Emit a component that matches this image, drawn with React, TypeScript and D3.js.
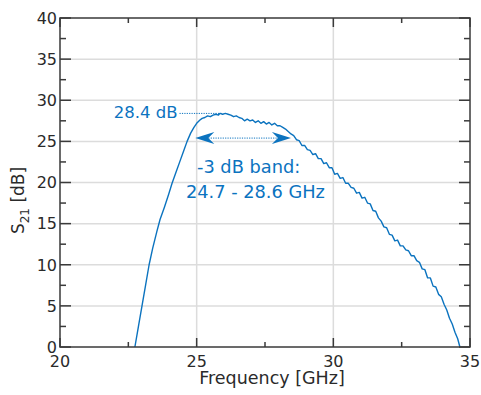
import React from 'react';
import * as d3 from 'd3';

// measured S21 trace (frequency in GHz, gain in dB)
const freqs = [
  22.74, 22.87, 23.0, 23.13, 23.26, 23.39, 23.54, 23.66, 23.82, 23.97, 24.1, 24.25, 24.39, 24.52,
  24.65, 24.78, 24.9, 25.0, 25.12, 25.2, 25.3, 25.4, 25.5, 25.6, 25.7, 25.8, 25.85, 25.95, 26.05,
  26.15, 26.25, 26.35, 26.45, 26.55, 26.65, 26.75, 26.85, 26.95, 27.05, 27.15, 27.25, 27.35, 27.45,
  27.55, 27.65, 27.75, 27.85, 27.95, 28.05, 28.15, 28.25, 28.35, 28.45, 28.55, 28.65, 28.75, 28.85,
  28.95, 29.05, 29.15, 29.25, 29.35, 29.45, 29.55, 29.65, 29.75, 29.85, 29.95, 30.05, 30.15, 30.25,
  30.35, 30.45, 30.55, 30.65, 30.75, 30.85, 30.95, 31.05, 31.15, 31.25, 31.35, 31.45, 31.55, 31.65,
  31.75, 31.85, 31.95, 32.05, 32.15, 32.25, 32.35, 32.45, 32.55, 32.65, 32.75, 32.85, 32.95, 33.05,
  33.15, 33.25, 33.35, 33.45, 33.55, 33.65, 33.75, 33.85, 33.95, 34.05, 34.15, 34.25, 34.35, 34.45,
  34.55, 34.63,
];
const s21 = [
  0, 2.5, 5.0, 7.5, 10.0, 12.0, 14.0, 15.5, 17.0, 18.5, 19.9, 21.3, 22.6, 23.8,
  25.0, 26.0, 26.7, 27.2, 27.6, 27.8, 27.9, 28.1, 28.0, 28.2, 28.3, 28.2, 28.4, 28.3, 28.4,
  28.3, 28.2, 28.0, 28.1, 27.9, 27.8, 27.5, 27.7, 27.5, 27.6, 27.3, 27.5, 27.2, 27.4,
  27.1, 27.3, 27.0, 27.2, 26.9, 26.9, 26.7, 26.5, 26.2, 25.9, 25.7, 25.2, 25.1, 24.5,
  24.5, 24.0, 23.9, 23.4, 23.5, 22.9, 22.9, 22.3, 22.4, 21.8, 21.8, 21.0, 21.1, 20.5,
  20.6, 19.9, 19.9, 19.4, 19.3, 18.7, 18.8, 18.1, 18.2, 17.5, 17.4, 16.6, 16.5, 15.7,
  15.3, 14.6, 14.5, 13.7, 13.6, 12.9, 13.0, 12.3, 12.3, 11.8, 11.7, 11.1, 11.1, 10.5,
  10.3, 9.5, 9.4, 8.4, 8.4, 7.4, 7.3, 6.4, 6.1, 5.2, 4.5, 3.5, 2.8, 1.8,
  1.0, 0,
];

const xTicks = [20, 25, 30, 35];
const xMinor = [22.5, 27.5, 32.5];
const yTicks = [0, 5, 10, 15, 20, 25, 30, 35, 40];
const yMinor = [2.5, 7.5, 12.5, 17.5, 22.5, 27.5, 32.5, 37.5];

const peakGain = 28.4;
const peakFreq = 25.95;
const peakLabelFreq = 24.3;
const bandLevel = 25.4;
const bandArrow = [24.95, 28.45];
const bandLabel = ['-3 dB band:', '24.7 - 28.6 GHz'];
const bandLabelFreq = [26.9, 27.15];
const bandLabelGain = [21.15, 18.1];

const W = 481;
const H = 395;
const margin = { left: 60, right: 11, top: 18, bottom: 48 };
const blue = '#0b73bf';
const axisColor = '#3a3a3a';
const font = '"DejaVu Sans", sans-serif';

export default function App() {
  const x = d3.scaleLinear().domain([20, 35]).range([margin.left, W - margin.right]);
  const y = d3.scaleLinear().domain([0, 40]).range([H - margin.bottom, margin.top]);
  const x0 = x(20), x1 = x(35), y0 = y(0), y1 = y(40);

  const line = d3.line<number>()
    .x((_, i) => x(freqs[i]))
    .y(d => y(d));

  // concave arrowhead pointing in direction dir (+1 right, -1 left)
  const head = (tipX: number, tipY: number, dir: number) => {
    const L = 19, w = 6, back = 13;
    return `M${tipX},${tipY} L${tipX - dir * L},${tipY - w} L${tipX - dir * back},${tipY} L${tipX - dir * L},${tipY + w} Z`;
  };
  const ay = y(bandLevel);
  const ax0 = x(bandArrow[0]);
  const ax1 = x(bandArrow[1]);

  return (
    <svg width={W} height={H} style={{ position: 'absolute', left: 0, top: 0, background: '#fff' }}>
      {/* grid */}
      {xTicks.slice(1, -1).map(t => (
        <line key={'gx' + t} x1={x(t)} x2={x(t)} y1={y0} y2={y1} stroke="#dcdcdc" strokeWidth={1.5} />
      ))}
      {yTicks.slice(1, -1).map(t => (
        <line key={'gy' + t} x1={x0} x2={x1} y1={y(t)} y2={y(t)} stroke="#dcdcdc" strokeWidth={1.5} />
      ))}

      {/* curve */}
      <path d={line(s21) || ''} fill="none" stroke={blue} strokeWidth={1.4} strokeLinejoin="round" />

      {/* peak annotation */}
      <text x={x(peakLabelFreq)} y={y(peakGain)} dy="0.3em" textAnchor="end" fontFamily={font} fontSize={16.5} fill={blue}>28.4 dB</text>
      <line x1={x(peakLabelFreq) + 2} x2={x(peakFreq)} y1={y(peakGain)} y2={y(peakGain)} stroke={blue} strokeWidth={1} strokeDasharray="1.2,1.2" />

      {/* -3 dB band arrow */}
      <line x1={ax0 + 13} x2={ax1 - 13} y1={ay} y2={ay} stroke={blue} strokeWidth={1} strokeDasharray="1.2,1.2" />
      <path d={head(ax0, ay, -1)} fill={blue} />
      <path d={head(ax1, ay, 1)} fill={blue} />
      {bandLabel.map((s, i) => (
        <text key={s} x={x(bandLabelFreq[i])} y={y(bandLabelGain[i])} textAnchor="middle" fontFamily={font} fontSize={17.8} fill={blue}>{s}</text>
      ))}

      {/* axes box */}
      <rect x={x0} y={y1} width={x1 - x0} height={y0 - y1} fill="none" stroke={axisColor} strokeWidth={1.5} />

      {/* ticks */}
      {xTicks.map(t => (
        <g key={'xt' + t}>
          <line x1={x(t)} x2={x(t)} y1={y0} y2={y0 - 9} stroke={axisColor} strokeWidth={1.5} />
          <line x1={x(t)} x2={x(t)} y1={y1} y2={y1 + 9} stroke={axisColor} strokeWidth={1.5} />
          <text x={x(t)} y={y0 + 20} textAnchor="middle" fontFamily={font} fontSize={16} fill="#2a2a2a">{t}</text>
        </g>
      ))}
      {xMinor.map(t => (
        <g key={'xm' + t}>
          <line x1={x(t)} x2={x(t)} y1={y0} y2={y0 - 5} stroke={axisColor} strokeWidth={1.5} />
          <line x1={x(t)} x2={x(t)} y1={y1} y2={y1 + 5} stroke={axisColor} strokeWidth={1.5} />
        </g>
      ))}
      {yTicks.map(t => (
        <g key={'yt' + t}>
          <line x1={x0} x2={x0 + 11} y1={y(t)} y2={y(t)} stroke={axisColor} strokeWidth={1.5} />
          <line x1={x1} x2={x1 - 11} y1={y(t)} y2={y(t)} stroke={axisColor} strokeWidth={1.5} />
          <text x={x0 - 3} y={y(t)} dy="0.36em" textAnchor="end" fontFamily={font} fontSize={16} fill="#2a2a2a">{t}</text>
        </g>
      ))}
      {yMinor.map(t => (
        <g key={'ym' + t}>
          <line x1={x0} x2={x0 + 6} y1={y(t)} y2={y(t)} stroke={axisColor} strokeWidth={1.5} />
          <line x1={x1} x2={x1 - 6} y1={y(t)} y2={y(t)} stroke={axisColor} strokeWidth={1.5} />
        </g>
      ))}

      {/* axis labels */}
      <text x={(x0 + x1) / 2 + 7} y={H - 11} textAnchor="middle" fontFamily={font} fontSize={17.5} fill="#2a2a2a">Frequency [GHz]</text>
      <text transform={`translate(24,${(y0 + y1) / 2 + 18}) rotate(-90)`} textAnchor="middle" fontFamily={font} fontSize={17} fill="#2a2a2a">
        S<tspan fontSize={12} dy={5}>21</tspan><tspan dy={-5}> [dB]</tspan>
      </text>
    </svg>
  );
}
